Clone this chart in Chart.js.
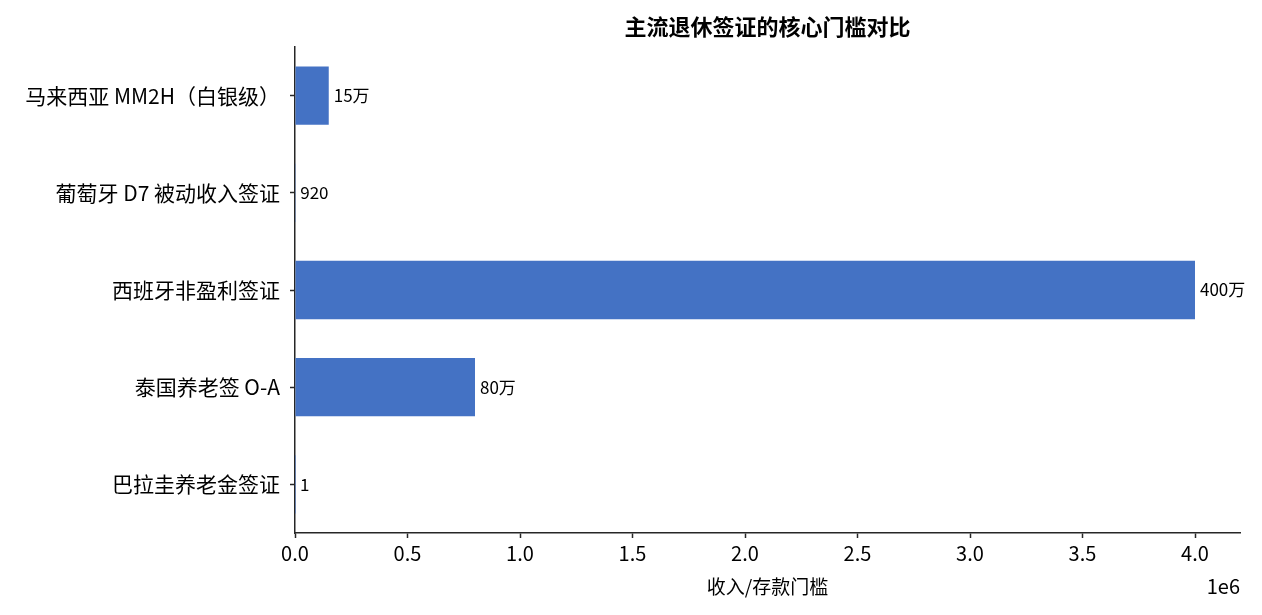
<!DOCTYPE html>
<html>
<head>
<meta charset="utf-8">
<script src="https://cdn.jsdelivr.net/npm/chart.js@4"></script>
<style>
html,body{margin:0;padding:0;background:#fff;}
canvas{display:block;}
</style>
</head>
<body>
<canvas id="c" width="1262" height="615"></canvas>
<script>
const categories = ['马来西亚 MM2H（白银级）', '葡萄牙 D7 被动收入签证', '西班牙非盈利签证', '泰国养老签 O-A', '巴拉圭养老金签证'];
const values = [150000, 920, 4000000, 800000, 1];
const valueLabels = ['15万', '920', '400万', '80万', '1'];
const xTickStep = 500000;
const xMax = 4200000;
const titleText = '主流退休签证的核心门槛对比';
const xTitle = '收入/存款门槛';
const offsetText = '1e6';

const FONT = "'Noto Sans CJK SC', 'Noto Sans', sans-serif";
const AXIS = '#262626';

const extras = {
  id: 'extras',
  afterDatasetsDraw(chart) {
    const ctx = chart.ctx;
    const meta = chart.getDatasetMeta(0);
    ctx.save();
    ctx.fillStyle = '#000';
    ctx.font = '17px ' + FONT;
    ctx.textAlign = 'left';
    ctx.textBaseline = 'middle';
    meta.data.forEach((el, i) => {
      ctx.fillText(valueLabels[i], el.x + 5, el.y);
    });
    ctx.restore();
  },
  afterDraw(chart) {
    const ctx = chart.ctx;
    const a = chart.chartArea;
    ctx.save();
    ctx.fillStyle = '#000';
    ctx.font = 'bold 22px ' + FONT;
    ctx.textAlign = 'center';
    ctx.textBaseline = 'middle';
    ctx.fillText(titleText, (a.left + a.right) / 2, 27);
    ctx.font = '20px ' + FONT;
    ctx.textAlign = 'right';
    ctx.fillText(offsetText, a.right, 586);
    ctx.restore();
  }
};

new Chart(document.getElementById('c'), {
  type: 'bar',
  data: {
    labels: categories,
    datasets: [{
      data: values,
      backgroundColor: '#4472C4',
      borderWidth: 0,
      barPercentage: 0.6,
      categoryPercentage: 1.0
    }]
  },
  options: {
    indexAxis: 'y',
    responsive: false,
    animation: false,
    devicePixelRatio: 1,
    layout: { padding: { top: 47, right: 22, left: 0, bottom: 0 } },
    plugins: {
      legend: { display: false },
      tooltip: { enabled: false },
      title: { display: false }
    },
    scales: {
      x: {
        type: 'linear',
        min: 0,
        max: xMax,
        afterFit(s) { s.height = 82; },
        afterBuildTicks(s) {
          const t = [];
          for (let v = 0; v <= 4000000; v += xTickStep) t.push({ value: v });
          s.ticks = t;
        },
        ticks: {
          color: '#000',
          font: { family: FONT, size: 20 },
          padding: 3,
          maxRotation: 0,
          callback: (v) => (v / 1e6).toFixed(1)
        },
        grid: { display: true, drawOnChartArea: false, drawTicks: true, tickLength: 5, tickColor: AXIS, tickWidth: 1.5 },
        border: { display: true, color: AXIS, width: 1.5 },
        title: { display: true, text: xTitle, color: '#000', font: { family: FONT, size: 19 }, padding: { top: 0, bottom: 17 } }
      },
      y: {
        type: 'category',
        offset: true,
        afterFit(s) { s.width = 295; },
        ticks: {
          color: '#000',
          font: { family: FONT, size: 21 },
          padding: 10
        },
        grid: { display: true, offset: false, drawOnChartArea: false, drawTicks: true, tickLength: 5, tickColor: AXIS, tickWidth: 1.5 },
        border: { display: true, color: AXIS, width: 1.5 }
      }
    }
  },
  plugins: [extras]
});
</script>
</body>
</html>
